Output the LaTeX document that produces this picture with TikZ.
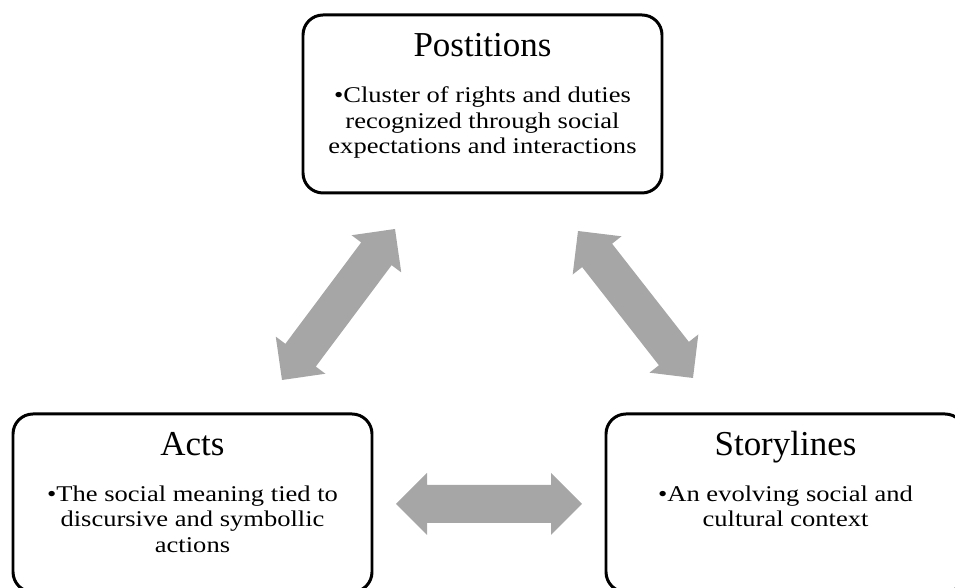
\documentclass[tikz,border=0pt]{standalone}
\usepackage{fontspec}
\setmainfont{Liberation Serif}
\newfontfamily\bodyfont{Liberation Serif}[FakeStretch=1.18]
\usepackage{xcolor}
\usetikzlibrary{positioning,calc}
\definecolor{arrowgray}{HTML}{A6A6A6}

% block arrow with a head at both ends, from #1 to #2
\newcommand{\dblarrow}[2]{%
  \fill[arrowgray] (#1)
    -- ($(#1)!0.62cm!(#2)!0.62cm!90:(#2)$) -- ($(#1)!0.62cm!(#2)!0.38cm!90:(#2)$)
    -- ($(#2)!0.62cm!(#1)!0.38cm!-90:(#1)$) -- ($(#2)!0.62cm!(#1)!0.62cm!-90:(#1)$)
    -- (#2)
    -- ($(#2)!0.62cm!(#1)!0.62cm!90:(#1)$) -- ($(#2)!0.62cm!(#1)!0.38cm!90:(#1)$)
    -- ($(#1)!0.62cm!(#2)!0.38cm!-90:(#2)$) -- ($(#1)!0.62cm!(#2)!0.62cm!-90:(#2)$)
    -- cycle;}

\begin{document}
\begin{tikzpicture}[
    box/.style={draw, line width=1.7pt, rounded corners=0.4cm, minimum width=7.18cm, minimum height=3.56cm, inner sep=0pt},
    title/.style={anchor=base, inner sep=0pt, font=\fontsize{19.9pt}{24pt}\selectfont},
    body/.style={anchor=north, inner sep=0pt, align=center, font=\bodyfont\fontsize{12.8pt}{14.5pt}\selectfont}]
    \useasboundingbox (0,0) rectangle (19.1,11.76);

    \node[box] (positions) at (9.65,9.68) {}; % top
    \node[title] (positions-t) at ([yshift=-0.87cm]positions.north) {Postitions};
    \node[body] (positions-b) at ([yshift=-1.46cm]positions.north) {\textbullet Cluster of rights and duties\\recognized through social\\expectations and interactions};

    \node[box] (acts) at (3.85,1.70) {}; % left
    \node[title] (acts-t) at ([yshift=-0.87cm]acts.north) {Acts};
    \node[body] (acts-b) at ([yshift=-1.46cm]acts.north) {\textbullet The social meaning tied to\\discursive and symbollic\\actions};

    \node[box] (storylines) at (15.71,1.70) {}; % right
    \node[title] (storylines-t) at ([yshift=-0.87cm]storylines.north) {Storylines};
    \node[body] (storylines-b) at ([yshift=-1.46cm]storylines.north) {\textbullet An evolving social and\\cultural context};

    \coordinate (pa-top) at (7.90,7.18);  \coordinate (pa-bot) at (5.64,4.16);
    \coordinate (ps-top) at (11.56,7.14); \coordinate (ps-bot) at (13.86,4.20);
    \coordinate (as-left) at (7.92,1.68); \coordinate (as-right) at (11.64,1.68);

    \dblarrow{pa-bot}{pa-top}   % acts - positions
    \dblarrow{ps-top}{ps-bot}   % positions - storylines
    \dblarrow{as-left}{as-right} % acts - storylines
\end{tikzpicture}
\end{document}
